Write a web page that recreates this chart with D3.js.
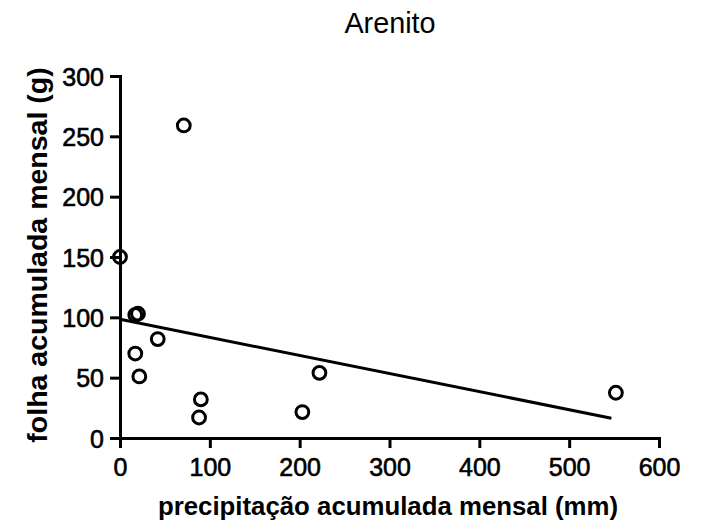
<!DOCTYPE html>
<html>
<head>
<meta charset="utf-8">
<script src="https://cdn.jsdelivr.net/npm/d3@7"></script>
<style>
  html, body { margin: 0; padding: 0; background: #fff; }
  svg { display: block; font-family: "Liberation Sans", Arial, sans-serif; }
</style>
</head>
<body>
<svg id="chart" width="701" height="525"></svg>
<script>
// Monthly accumulated rainfall (mm) vs. monthly accumulated leaf litter (g)
const precipitacao = [71, 0, 17, 20, 17, 21.5, 42, 90, 88, 203, 222, 552];
const folha        = [259, 150, 102, 103, 70, 51, 82, 32, 17, 21.5, 54, 37.5];
const xTicks = [0, 100, 200, 300, 400, 500, 600];
const yTicks = [0, 50, 100, 150, 200, 250, 300];
const fitRange = [0, 547];

const svg = d3.select("#chart");

const x = d3.scaleLinear().domain([0, 600]).range([120, 659]);
const y = d3.scaleLinear().domain([0, 300]).range([438, 76]);

// Least-squares line through the points
const n = precipitacao.length;
const mx = d3.mean(precipitacao), my = d3.mean(folha);
let sxy = 0, sxx = 0;
for (let i = 0; i < n; i++) {
  sxy += (precipitacao[i] - mx) * (folha[i] - my);
  sxx += (precipitacao[i] - mx) ** 2;
}
const slope = sxy / sxx, intercept = my - slope * mx;

// Axes
const xAxis = svg.append("g")
  .attr("transform", "translate(0,438)")
  .call(d3.axisBottom(x).tickValues(xTicks).tickSize(10).tickSizeOuter(0).tickPadding(10));
const yAxis = svg.append("g")
  .attr("transform", "translate(120,0)")
  .call(d3.axisLeft(y).tickValues(yTicks).tickSize(10).tickSizeOuter(0).tickPadding(6));

[xAxis, yAxis].forEach(g => {
  g.selectAll("path, line").attr("stroke", "#000").attr("stroke-width", 3);
  g.select(".domain").attr("stroke-linecap", "square");
  g.selectAll("text")
    .attr("fill", "#000")
    .attr("stroke", "#000")
    .attr("stroke-width", 0.6)
    .style("font-size", "25px")
    .style("font-family", "'Liberation Sans', Arial, sans-serif");
});
xAxis.selectAll("text").attr("dy", "0.72em");
yAxis.selectAll("text").attr("dy", "0.36em");

// Regression line
svg.append("line")
  .attr("x1", x(fitRange[0])).attr("y1", y(intercept + slope * fitRange[0]))
  .attr("x2", x(fitRange[1])).attr("y2", y(intercept + slope * fitRange[1]))
  .attr("stroke", "#000").attr("stroke-width", 3);

// Points
svg.append("g").selectAll("circle")
  .data(d3.range(n))
  .join("circle")
  .attr("cx", i => x(precipitacao[i]))
  .attr("cy", i => y(folha[i]))
  .attr("r", 6.4)
  .attr("fill", "none")
  .attr("stroke", "#000")
  .attr("stroke-width", 3);

// Titles
svg.append("text")
  .attr("x", 390).attr("y", 33)
  .attr("text-anchor", "middle")
  .style("font-size", "28.8px")
  .text("Arenito");

svg.append("text")
  .attr("x", 388).attr("y", 515)
  .attr("text-anchor", "middle")
  .style("font-size", "25.8px").style("font-weight", "bold")
  .text("precipitação acumulada mensal (mm)");

svg.append("text")
  .attr("transform", "translate(47,255) rotate(-90)")
  .attr("text-anchor", "middle")
  .style("font-size", "28.5px").style("font-weight", "bold")
  .text("folha acumulada mensal (g)");
</script>
</body>
</html>
